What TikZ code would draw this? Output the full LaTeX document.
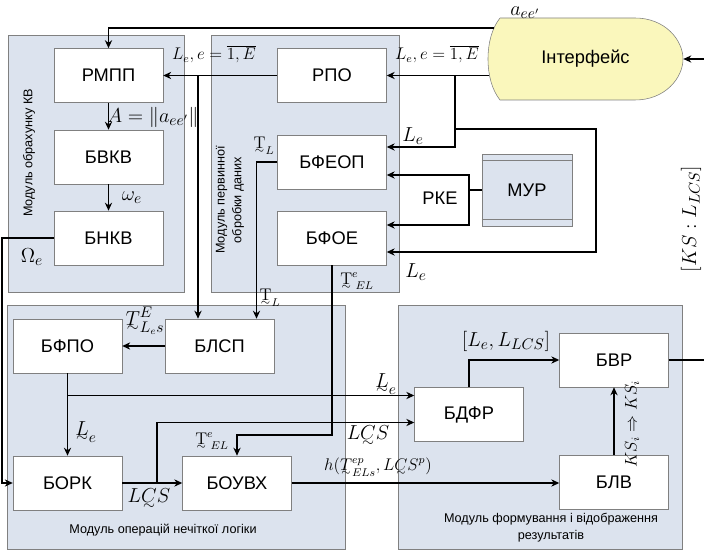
\documentclass[tikz,border=0pt]{standalone}
\usepackage{amsmath,amssymb}
\usepackage[no-math]{fontspec}
\setmainfont{Liberation Sans}
\usepackage{tikz}
\usetikzlibrary{arrows.meta,positioning,calc}
\definecolor{panelbg}{RGB}{220,227,238}
\definecolor{edgegray}{RGB}{128,128,128}
\definecolor{intfyel}{RGB}{250,247,188}
\newcommand{\ut}[1]{\mathord{\vtop{\offinterlineskip\ialign{\hfil##\hfil\cr
  $#1$\cr\noalign{\kern0.5pt}$\scriptstyle\sim$\cr}}}}

\begin{document}
\begin{tikzpicture}[
  x=0.025cm, y=-0.025cm,
  every node/.style={font=\fontsize{13}{15}\selectfont},
  blk/.style={draw=edgegray, fill=white, minimum width=2.72cm,
    minimum height=1.35cm, inner sep=0pt},
  panel/.style={draw=edgegray, fill=panelbg, line width=0.6pt},
  flow/.style={-{Stealth[length=2mm,width=1.8mm]}, line width=1.2pt},
  wire/.style={line width=1.2pt},
  mlbl/.style={inner sep=1pt, font=\fontsize{15}{17}\selectfont},
  slbl/.style={inner sep=1pt, font=\fontsize{12}{14}\selectfont},
  plbl/.style={font=\fontsize{9}{12}\selectfont, align=center},
]
\useasboundingbox (0,0) rectangle (704,550);

% module panels
\draw[panel] (8,35) rectangle (184,292);
\draw[panel] (211,35) rectangle (399,292);
\draw[panel] (7,305) rectangle (345,549);
\draw[panel] (398,305) rectangle (682,549);
\node[plbl, rotate=90] (p1lbl) at (29,153) {Модуль обрахунку КВ};
\node[plbl, rotate=90] (p2lbl) at (230,200) {Модуль первинної\\обробки даних};
\node[plbl] (p3lbl) at (163,530) {Модуль операцій нечіткої логіки};
\node[plbl] (p4lbl) at (551,528) {Модуль формування і відображення\\результатів};

% interface (display shape)
\draw[draw=edgegray, fill=intfyel] (500,18) -- (635,18)
  .. controls (665,18) and (683,40) .. (683,59)
  .. controls (683,78) and (665,100) .. (635,100) -- (500,100)
  .. controls (492,90) and (488,75) .. (488,59)
  .. controls (488,43) and (492,28) .. (500,18);
\node[minimum width=4.875cm, minimum height=2.05cm] (intf) at (585.5,59) {Інтерфейс};

% blocks
\node[blk] (rmpp)  at (108.5,75.5)  {РМПП};
\node[blk] (bvkv)  at (108.5,157)   {БВКВ};
\node[blk] (bnkv)  at (108.5,238)   {БНКВ};
\node[blk] (rpo)   at (332,75.5)    {РПО};
\node[blk] (bfeop) at (332,162)     {БФЕОП};
\node[blk] (bfoe)  at (332,238)     {БФОЕ};
\node[blk] (bfpo)  at (67.5,346)    {БФПО};
\node[blk] (blsp)  at (219.5,346)   {БЛСП};
\node[blk] (bork)  at (67.5,483)    {БОРК};
\node[blk] (bouvh) at (237,483)     {БОУВХ};
\node[blk] (bdfr)  at (469,414.5)   {БДФР};
\node[blk] (bvr)   at (614,360)     {БВР};
\node[blk] (blv)   at (614,482)     {БЛВ};
\node[draw=edgegray, fill=panelbg, minimum width=2.25cm, minimum height=1.8cm]
  (mur) at (527,190) {МУР};
\draw[edgegray] ($(mur.north west)+(0,7)$) -- ($(mur.north east)+(0,7)$);
\draw[edgegray] ($(mur.south west)+(0,-7)$) -- ($(mur.south east)+(0,-7)$);

% junctions and free ends
\coordinate (ifa) at (494,28);
\coordinate (ifb) at (489,75.5);
\coordinate (j1) at (198,75.5);
\coordinate (j2) at (455,75.5);
\coordinate (j3) at (455,129);
\coordinate (r1) at (596,129);
\coordinate (rke) at (469,190);
\coordinate (l1) at (2,238);
\coordinate (j4) at (67.5,395.5);
\coordinate (j5) at (157,483);
\coordinate (out1) at (704,360);
\coordinate (in1) at (704,59);

% connectors
\draw[flow] (ifa) -| (rmpp.north);
\draw[flow] (ifb) -- (rpo.east);
\draw[flow] (rpo.west) -- (rmpp.east);
\draw[flow] (j1) -- (j1 |- blsp.north);
\draw[flow] (j2) |- ($(bfeop.east)+(0,-15)$);
\draw[flow] (j3) -- (r1) |- ($(bfoe.east)+(0,14)$);
\draw[wire] (mur.west) -- (rke);
\draw[flow] (rke) |- ($(bfeop.east)+(0,13)$);
\draw[flow] (rke) |- ($(bfoe.east)+(0,-13)$);
\draw[flow] (rmpp) -- (bvkv);
\draw[flow] (bvkv) -- (bnkv);
\draw[flow] (bnkv.west) -- (l1) |- (bork.west);
\draw[flow] (bfeop.west) -| ($(blsp.north)+(37,0)$);
\draw[flow] (bfoe.south) |- ($(bouvh.north)+(0,-21)$) -- (bouvh.north);
\draw[flow] (blsp) -- (bfpo);
\draw[flow] (bfpo) -- (bork);
\draw[flow] (j4) -- (j4 -| bdfr.west);
\draw[flow] (bork) -- (bouvh);
\draw[flow] (j5) |- ($(bdfr.west)+(0,8)$);
\draw[flow] (bouvh.east) -- (bouvh.east -| blv.west);
\draw[flow] (bdfr.north) |- (bvr.west);
\draw[flow] (blv) -- (bvr);
\draw[wire] (bvr.east) -- (out1);
\draw[flow] (in1) -- (intf.east);

% labels
\node[mlbl] (la)   at (525,13)   {$a_{ee'}$};
\node[slbl] (lr1)  at (437,54)   {$L_e, e=\overline{1,E}$};
\node[slbl] (lr2)  at (214,54)   {$L_e, e=\overline{1,E}$};
\node[mlbl] (la2)  at (153,117)  {$A=\left\|a_{ee'}\right\|$};
\node[mlbl] (lw)   at (132,198)  {$\omega_e$};
\node[mlbl] (lW)   at (32,257)   {$\Omega_e$};
\node[slbl] (ltl1) at (264,146)  {$\ut{\mathrm{T}}_L$};
\node[slbl] (ltl2) at (270,298)  {$\ut{\mathrm{T}}_L$};
\node[mlbl] (lle1) at (413,136)  {$L_e$};
\node[mlbl] (lle2) at (416,272)  {$L_e$};
\node[slbl] (lte1) at (357,281)  {$\ut{\mathrm{T}}^{e}_{\;EL}$};
\node[slbl] (lte2) at (212,441)  {$\ut{\mathrm{T}}^{e}_{\;EL}$};
\node[mlbl] (ltls) at (145,321)  {$\ut{T}^{E}_{L_e s}$};
\node[mlbl] (lle3) at (86,432)   {$\ut{L}_e$};
\node[mlbl] (llcs) at (149,499)  {$\ut{LCS}$};
\node[mlbl] (lle4) at (386,384)  {$\ut{L}_e$};
\node[mlbl] (llc2) at (368,436)  {$\ut{LCS}$};
\node[slbl] (lh)   at (378,467)  {$h(\ut{T}^{ep}_{ELs}, \ut{LCS}^{p})$};
\node[mlbl] (lll)  at (506,341)  {$[L_e, L_{LCS}]$};
\node[slbl, rotate=90] (lks)  at (632,424) {$KS_i \Rightarrow KS_i$};
\node[mlbl, rotate=90] (lksl) at (691,219) {$[KS:L_{LCS}]$};
\node (rketxt) at (440,198) {РКЕ};
\end{tikzpicture}
\end{document}
